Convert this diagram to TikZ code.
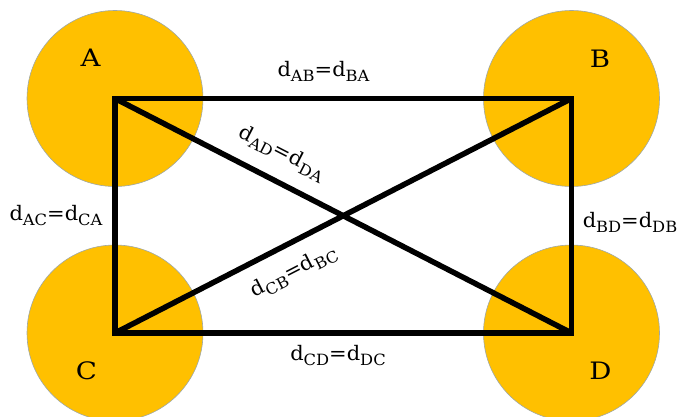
\documentclass[tikz,border=0pt]{standalone}
\usepackage{fontspec}
\newfontfamily\lblfont[FakeStretch=1.05]{DejaVu Serif}
\newfontfamily\letfont[FakeStretch=1.15]{DejaVu Serif}
\definecolor{amber}{HTML}{FFC000}
\definecolor{edgegray}{HTML}{9EA8A8}
\tikzset{
  site/.style={circle, fill=amber, draw=edgegray, line width=0.6pt, minimum size=176pt, inner sep=0pt},
  edge/.style={line width=5.5pt, black},
  lbl/.style={font=\lblfont\fontsize{20}{22}\selectfont, inner sep=0pt},
  letter/.style={font=\letfont\fontsize{24}{26}\selectfont, inner sep=0pt}
}
\newcommand{\sbs}[1]{\raisebox{-5pt}{\fontsize{15.5}{16}\selectfont #1}}
\newcommand{\dist}[2]{d\sbs{#1}=d\sbs{#2}}
\begin{document}
\begin{tikzpicture}[x=1pt,y=-1pt]
\useasboundingbox (0,0) rectangle (678,417);
\node[site] (cA) at (115,98.5) {};
\node[site] (cB) at (571.5,98.5) {};
\node[site] (cC) at (115,333) {};
\node[site] (cD) at (571.5,333) {};
\coordinate (A) at (115,98.5);
\coordinate (B) at (571.5,98.5);
\coordinate (C) at (115,333);
\coordinate (D) at (571.5,333);
\draw[edge, line join=miter] (A) -- (B) -- (D) -- (C) -- cycle;
\draw[edge] (A) -- (D);
\draw[edge] (C) -- (B);
\node[letter] (lA) at (90.5,58) {A};
\node[letter] (lB) at (600,59) {B};
\node[letter] (lC) at (86.5,371) {C};
\node[letter] (lD) at (600.5,371) {D};
\node[lbl] (dAB) at (323.5,71) {\dist{AB}{BA}};
\node[lbl] (dAC) at (56,216) {\dist{AC}{CA}};
\node[lbl] (dBD) at (630,222.5) {\dist{BD}{DB}};
\node[lbl] (dCD) at (338,356) {\dist{CD}{DC}};
\node[lbl, rotate=-27.2] (dAD) at (282,153) {\dist{AD}{DA}};
\node[lbl, rotate=27.2] (dCB) at (294,272) {\dist{CB}{BC}};
\end{tikzpicture}
\end{document}
